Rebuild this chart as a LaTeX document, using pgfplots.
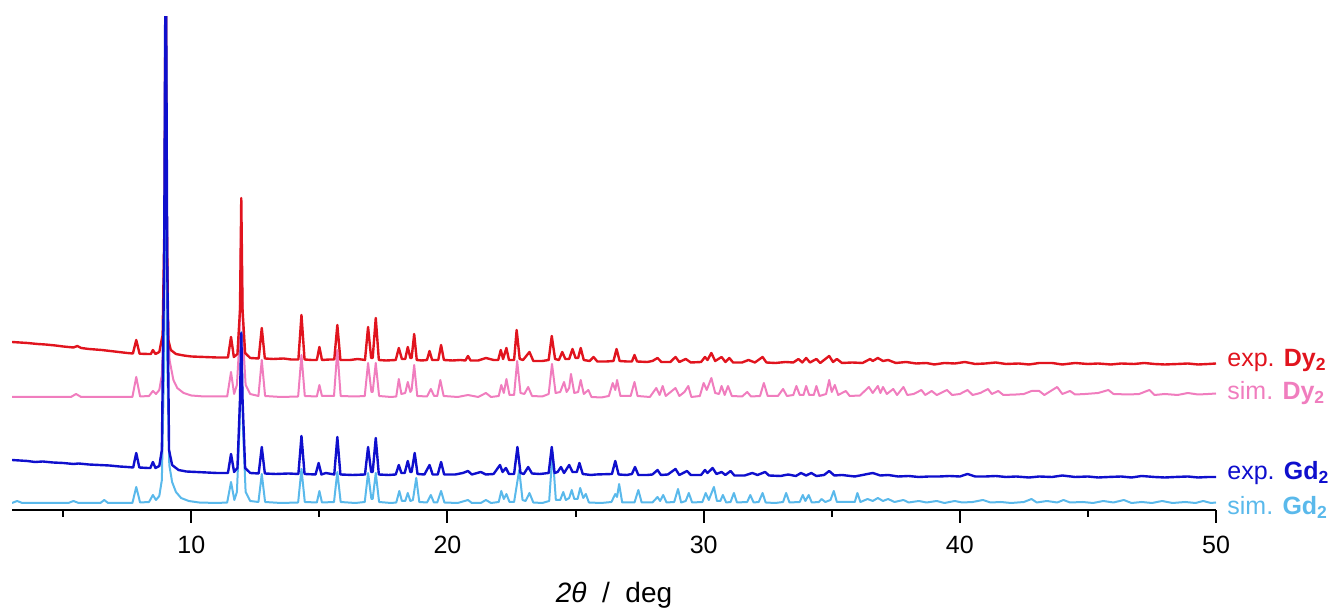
\documentclass[border=0pt]{standalone}
\usepackage{pgfplots}
\pgfplotsset{compat=1.18}
\usepackage{fontspec}
\setmainfont{Liberation Sans}
\definecolor{cRed}{RGB}{225,20,30}
\definecolor{cPink}{RGB}{240,125,190}
\definecolor{cBlue}{RGB}{15,15,205}
\definecolor{cLight}{RGB}{90,185,235}
\begin{document}
\begin{tikzpicture}
\useasboundingbox (-6pt,-49pt) rectangle (660.5pt,255pt);
\begin{axis}[
  at={(0,0)}, anchor=south west,
  scale only axis, width=602pt, height=246.5pt,
  xmin=3, xmax=50, ymin=0, ymax=493,
  axis x line=bottom, axis y line=none,
  axis line style={-, line width=1pt, black},
  xtick={10,20,30,40,50}, minor xtick={5,15,25,35,45},
  ytick=\empty,
  tick align=outside,
  major tick length=6.5pt, minor tick length=3.5pt,
  every tick/.style={black, line width=1pt},
  xticklabel style={font=\fontsize{12.5}{14}\selectfont, yshift=-3pt},
  /pgf/number format/assume math mode=true,
  clip=true,
  every axis plot/.append style={line join=round, mark=none},
]
% sim. Dy2
\addplot[cPink, line width=1pt] coordinates {
(3,113) (5.3,113) (5.5,116) (5.7,113) (7.7,113) (7.85,133) (8.0,113.5) (8.35,114) (8.5,119) (8.62,116) (8.75,120) (8.85,135) (8.94,200) (9.0,600) (9.06,220) (9.15,150) (9.3,130) (9.45,122) (9.7,117) (10.0,114.5) (10.5,113.5) (11.4,113.5) (11.55,138) (11.67,116) (11.78,125) (11.88,170) (11.95,290) (12.02,170) (12.12,125) (12.3,116) (12.62,114) (12.75,150) (12.88,114) (13.5,113) (14.17,113.5) (14.3,155) (14.43,114) (14.9,113.5) (15.0,125) (15.1,114) (15.57,114) (15.7,160) (15.83,114) (16.4,113.5) (16.77,114) (16.9,147) (17.03,118) (17.08,118) (17.2,147) (17.33,114) (17.8,113) (18.0,113.5) (18.1,131) (18.2,116) (18.35,117) (18.45,128) (18.55,118) (18.6,120) (18.7,145) (18.82,114) (19.2,113.5) (19.35,121) (19.48,114) (19.6,114) (19.72,130) (19.85,114) (20.4,113) (20.8,115) (21.2,113) (21.5,117) (21.7,113) (22.0,114) (22.1,125) (22.2,117) (22.3,131) (22.42,115) (22.6,115) (22.72,149) (22.85,117) (23.0,116) (23.15,123) (23.3,114) (23.7,113.5) (23.95,116) (24.08,146) (24.22,117) (24.4,118) (24.55,128) (24.65,118) (24.75,122) (24.82,136) (24.95,117) (25.1,118) (25.2,130) (25.32,116) (25.5,120) (25.62,113) (26.0,112.5) (26.3,114) (26.45,127) (26.55,120) (26.62,130) (26.75,114) (27.15,114) (27.3,128) (27.42,114) (27.9,113) (28.15,122) (28.28,115) (28.4,124) (28.52,114) (28.9,122) (29.05,114) (29.25,118) (29.4,124) (29.52,113) (29.85,114) (30.0,127) (30.12,120) (30.3,132) (30.45,117) (30.6,116) (30.7,124) (30.82,115) (30.95,124) (31.1,114) (31.5,113.5) (31.7,118) (31.85,113.5) (32.2,114) (32.35,127) (32.5,114) (32.9,114) (33.1,121) (33.25,114) (33.5,115) (33.62,124) (33.75,115) (33.9,115) (34.0,124) (34.12,115) (34.3,115) (34.4,124) (34.52,114) (34.78,116) (34.9,130) (35.0,118) (35.12,125) (35.25,115) (35.55,119) (35.7,114) (36.1,114.5) (36.45,123) (36.6,117) (36.8,124) (36.9,117) (37.0,123) (37.15,116) (37.4,121) (37.55,115) (37.8,123) (37.95,115) (38.2,116) (38.5,120) (38.65,115) (38.9,119) (39.1,115) (39.5,120) (39.7,115) (40.0,116) (40.3,120) (40.5,115) (40.8,117) (41.1,121) (41.25,116) (41.5,119) (41.7,115) (42.2,115.5) (42.5,116) (42.8,119) (43.1,119) (43.3,115) (43.8,123) (44.0,116) (44.3,119) (44.5,115.5) (44.9,116) (45.4,117) (45.8,120) (46.0,116) (46.6,115.5) (47.0,116) (47.4,120) (47.6,115) (48.0,116) (48.5,115) (48.9,117) (49.3,115.5) (49.7,116) (50,116.5)
};
% exp. Dy2
\addplot[cRed, line width=1.2pt] coordinates {
(3.0,168) (3.3,167.5) (3.6,167) (4.0,166) (4.3,165.5) (4.7,164.5) (5.0,163.5) (5.4,162.5) (5.55,164) (5.7,162) (6.0,161) (6.5,160) (7.0,158.5) (7.5,157) (7.72,156.5) (7.85,170) (7.98,156.3) (8.3,156) (8.42,156) (8.5,160) (8.6,156) (8.75,158) (8.88,175) (8.96,300) (9.0,600) (9.04,300) (9.1,170) (9.2,160) (9.4,156) (9.7,154.5) (10.0,153.5) (10.5,153) (11.0,152.5) (11.3,152.5) (11.43,152.5) (11.55,173) (11.66,153) (11.8,156) (11.9,200) (11.95,312) (12.0,200) (12.1,157) (12.3,152) (12.63,151.5) (12.75,182) (12.87,151.5) (13.2,151) (13.6,151.5) (13.9,150.5) (14.18,150.5) (14.3,195) (14.42,150.5) (14.7,150) (14.9,150) (15.0,163) (15.1,150) (15.4,150.5) (15.58,150.5) (15.7,185) (15.82,150) (16.2,150) (16.5,151) (16.78,150) (16.9,183) (17.02,152) (17.08,152) (17.2,192) (17.32,150) (17.6,149.5) (17.98,150) (18.1,162) (18.22,151) (18.35,151) (18.45,163) (18.55,152) (18.6,152) (18.7,176) (18.8,150) (19.0,149.5) (19.2,150) (19.3,159) (19.4,150) (19.64,150) (19.75,165) (19.86,150) (20.2,149.5) (20.5,150) (20.7,149.5) (20.8,154) (20.9,149.5) (21.2,149.5) (21.5,152) (21.8,150) (21.98,150) (22.08,160) (22.17,151) (22.3,162) (22.4,150) (22.6,150) (22.7,180) (22.82,151) (22.95,150) (23.2,158) (23.35,149) (23.7,149) (23.95,150) (24.07,174) (24.2,151) (24.35,150) (24.48,158) (24.6,151) (24.75,151) (24.88,161) (25.0,152) (25.1,152) (25.2,162) (25.32,150) (25.55,149) (25.7,153) (25.85,148.5) (26.2,148.5) (26.48,149) (26.6,161) (26.72,149) (27.0,148.5) (27.2,148.5) (27.3,155) (27.4,148.5) (27.8,148) (28.0,149) (28.2,152) (28.35,148) (28.7,148) (28.9,153) (29.05,148) (29.3,151) (29.5,147.5) (29.9,148) (30.05,153) (30.15,150) (30.3,157) (30.45,149) (30.7,153) (30.85,148) (31.0,152) (31.15,147.5) (31.5,147.5) (31.75,150) (32.0,147.5) (32.3,153) (32.45,147.5) (32.8,147) (33.2,148) (33.5,147.5) (33.7,151) (33.85,147.5) (34.0,152) (34.15,147.5) (34.4,151) (34.55,147) (34.9,154) (35.05,148) (35.2,151) (35.4,147) (35.8,147.5) (36.2,147) (36.5,151) (36.6,149) (36.8,152) (37.0,149) (37.2,150) (37.5,147) (37.9,148) (38.3,146.5) (38.7,147) (39.0,145.5) (39.4,147) (39.8,146.5) (40.2,148) (40.6,146) (41.0,146.5) (41.4,147.5) (41.8,146) (42.3,146.5) (42.7,145.5) (43.1,147) (43.6,147) (44.0,145.5) (44.5,147) (45.0,146) (45.4,146.5) (45.9,145.5) (46.3,146.5) (46.8,146) (47.2,147) (47.6,146) (48.0,145.5) (48.5,146) (48.9,146.5) (49.3,145.5) (49.7,146) (50.0,146.5)
};
% sim. Gd2
\addplot[cLight, line width=1pt] coordinates {
(3,7) (3.2,9) (3.4,7) (5.2,7) (5.4,9) (5.6,7) (6.45,7) (6.6,10) (6.75,7) (7.7,7) (7.85,23) (8.0,7.5) (8.35,8) (8.5,15) (8.62,10) (8.75,14) (8.85,30) (8.94,150) (9.0,600) (9.06,150) (9.14,45) (9.25,28) (9.4,18) (9.6,12) (9.9,9) (10.3,7.5) (11.0,7) (11.4,7.5) (11.55,28) (11.68,10) (11.78,18) (11.88,80) (11.95,178) (12.02,80) (12.12,18) (12.3,9) (12.62,8) (12.75,36) (12.88,8) (13.5,7) (14.17,7.5) (14.3,41) (14.43,8) (14.9,7.5) (15.0,19) (15.1,7.5) (15.57,8) (15.7,38) (15.83,8) (16.4,7) (16.77,8) (16.9,37) (17.03,11) (17.08,11) (17.2,37) (17.33,8) (17.8,7) (18.0,7.5) (18.12,19) (18.22,9) (18.35,9) (18.45,17) (18.55,9) (18.65,10) (18.78,32) (18.9,8) (19.2,7.5) (19.35,15) (19.47,7.5) (19.6,7.5) (19.75,19) (19.88,7.5) (20.4,7) (20.8,10) (20.95,7) (21.3,7) (21.5,10) (21.7,7) (22.0,8) (22.1,19) (22.2,11) (22.3,16) (22.42,8) (22.6,8) (22.8,40) (22.93,10) (23.05,9) (23.2,17) (23.35,7.5) (23.7,7) (23.97,9) (24.1,58) (24.23,10) (24.4,10) (24.52,18) (24.62,10) (24.75,12) (24.85,20) (24.95,11) (25.08,11) (25.18,22) (25.3,12) (25.4,16) (25.52,7.5) (26.0,7) (26.4,8) (26.55,16) (26.62,13) (26.7,26) (26.82,7.5) (27.3,7.5) (27.45,20) (27.58,7.5) (28.0,7.5) (28.2,13) (28.3,9) (28.42,15) (28.55,7.5) (28.85,8) (29.0,21) (29.12,7.5) (29.3,9) (29.42,17) (29.55,7.5) (29.95,8) (30.08,17) (30.2,10) (30.4,23) (30.52,9) (30.65,9) (30.75,15) (30.88,7.5) (31.05,8) (31.18,17) (31.3,7.5) (31.7,8) (31.82,15) (31.95,7.5) (32.15,8) (32.3,17) (32.42,7.5) (32.8,7) (33.1,8) (33.22,17) (33.35,7.5) (33.75,8) (33.87,15) (33.97,9) (34.1,15) (34.22,7.5) (34.5,8) (34.6,11) (34.75,8) (34.95,10) (35.08,19) (35.2,8) (35.6,8) (35.9,8) (36.0,17) (36.12,8) (36.4,11) (36.6,9) (36.8,12) (37.0,9) (37.2,11) (37.45,8) (37.8,10) (38.0,7.5) (38.4,9) (38.7,7.5) (39.1,9) (39.4,7) (39.8,9) (40.1,7.5) (40.5,8) (40.9,10) (41.2,7.5) (41.6,8) (42.0,7) (42.5,8) (42.8,11) (43.0,7.5) (43.4,9) (43.8,7.5) (44.05,10) (44.3,7.5) (44.8,8) (45.2,7) (45.6,9) (46.0,7.5) (46.4,10) (46.7,7) (47.1,8) (47.5,7) (47.9,9) (48.3,7) (48.8,8) (49.2,7) (49.5,9) (49.8,7) (50,7.5)
};
% exp. Gd2
\addplot[cBlue, line width=1.2pt] coordinates {
(3,50) (3.3,49.5) (3.6,49) (3.9,48) (4.2,48.5) (4.6,47.5) (5.0,47) (5.4,46) (5.6,46.5) (6.0,45.5) (6.4,45) (6.8,44.5) (7.2,43.5) (7.5,43) (7.73,42.5) (7.85,57) (7.97,42.5) (8.3,42) (8.4,42) (8.5,48) (8.6,42) (8.75,44) (8.85,60) (8.94,250) (9.0,600) (9.06,250) (9.13,60) (9.25,45) (9.5,40) (9.8,38.5) (10.2,38) (10.6,37.5) (11.0,37) (11.43,37) (11.55,56) (11.67,38) (11.8,42) (11.9,110) (11.95,177) (12.0,110) (12.1,42) (12.3,37) (12.63,36.5) (12.75,63) (12.87,36.5) (13.3,36) (13.8,36.5) (14.18,36) (14.3,74) (14.42,36) (14.85,35.5) (14.97,47) (15.08,35.5) (15.25,37) (15.58,35.5) (15.7,73) (15.82,35.5) (16.3,35) (16.78,35.5) (16.9,63) (17.02,38) (17.08,38) (17.2,72) (17.32,35.5) (17.7,35) (17.98,35.5) (18.1,45) (18.2,37) (18.33,37) (18.45,49) (18.55,38) (18.6,38) (18.72,57) (18.83,36) (19.1,35.5) (19.3,45) (19.42,35.5) (19.62,35.5) (19.75,48) (19.87,35.5) (20.3,35.5) (20.6,37) (20.8,39) (20.95,35.5) (21.3,38) (21.5,35.5) (21.8,36) (22.05,45) (22.15,38) (22.28,42) (22.4,36) (22.6,36) (22.73,63) (22.85,37) (22.98,36) (23.15,43) (23.3,36.5) (23.6,36) (23.95,37) (24.07,63) (24.18,37) (24.3,38) (24.43,43) (24.55,37) (24.75,45) (24.88,38) (25.05,38) (25.15,47) (25.28,36) (25.6,35) (25.8,35.5) (26.42,36) (26.55,49) (26.68,35.5) (27.0,35) (27.2,36) (27.32,43) (27.45,35) (27.8,35) (28.0,35.5) (28.2,40) (28.33,35) (28.6,35.5) (28.9,41) (29.05,35) (29.35,39) (29.5,35) (29.9,35) (30.05,40) (30.15,37) (30.35,42) (30.5,36) (30.7,38) (30.85,35) (31.05,39) (31.2,34.5) (31.6,34.5) (31.9,37) (32.1,35) (32.4,38) (32.55,34.5) (33.0,34) (33.3,35.5) (33.6,34) (33.8,37) (34.0,34.5) (34.2,37) (34.4,34) (34.7,35) (34.9,39) (35.1,34.5) (35.4,35) (35.9,33.5) (36.3,35.5) (36.6,37) (36.9,34.5) (37.2,35) (37.6,33.5) (38.0,34) (38.4,33) (38.8,33.5) (39.2,33.5) (39.6,34) (40.0,33.5) (40.3,36) (40.6,33.5) (41.0,33.5) (41.4,34) (41.8,33) (42.2,33.5) (42.7,32.5) (43.1,33.5) (43.6,33) (44.0,34.5) (44.5,33) (45.0,33.5) (45.4,32.5) (45.8,33) (46.3,33.5) (46.7,32.5) (47.1,34) (47.6,33) (48.0,32.5) (48.4,33) (48.9,33.5) (49.3,32.5) (49.7,33) (50,33)
};
\end{axis}
\begin{scope}[every node/.style={anchor=base west, inner sep=0pt, font=\fontsize{12.5}{14}\selectfont}]
\node[text=cRed]   at (607.5pt,71.5pt) {exp. \textbf{Dy}\textsubscript{\textbf{2}}};
\node[text=cPink]  at (607.5pt,55pt)   {sim. \textbf{Dy}\textsubscript{\textbf{2}}};
\node[text=cBlue]  at (607.5pt,15pt)   {exp. \textbf{Gd}\textsubscript{\textbf{2}}};
\node[text=cLight] at (607.5pt,-2.5pt) {sim. \textbf{Gd}\textsubscript{\textbf{2}}};
\end{scope}
\node[anchor=base, inner sep=0pt, font=\fontsize{14}{16}\selectfont] at (301pt,-46.5pt) {\textit{2θ}~~/~~deg};
\end{tikzpicture}
\end{document}
